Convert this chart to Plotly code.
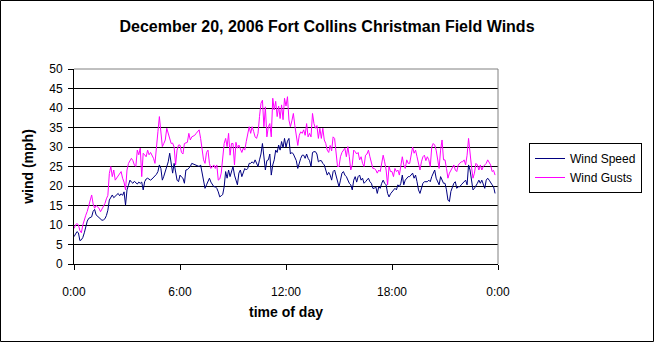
import plotly.graph_objects as go

# ---- data (mph, read at 5-minute steps from 0:00) ----
wind_speed = [
    7.0, 7.5, 8.3, 8.0, 6.0, 6.2, 6.8, 8.0, 9.8, 11.0, 11.7, 12.0,
    12.1, 13.5, 14.0, 12.6, 12.3, 12.0, 11.5, 11.2, 11.3, 11.6, 12.4, 13.8,
    16.4, 17.0, 17.7, 17.0, 17.3, 17.8, 18.1, 17.5, 18.0, 17.6, 18.5, 15.1,
    19.0, 20.2, 21.5, 21.0, 20.7, 21.2, 20.7, 20.5, 21.0, 20.7, 21.0, 19.0,
    21.1, 21.8, 22.0, 21.7, 21.5, 21.8, 22.2, 22.4, 23.0, 23.7, 25.4, 24.5,
    21.5, 22.5, 23.7, 25.0, 26.2, 28.4, 25.4, 23.3, 25.8, 23.0, 21.5, 21.1,
    22.8, 22.3, 22.0, 20.7, 24.1, 24.2, 24.5, 25.0, 25.8, 25.6, 25.4, 25.2,
    25.0, 25.0, 25.4, 23.3, 20.7, 19.4, 20.3, 21.0, 22.0, 21.0, 20.3, 19.8,
    19.8, 19.4, 18.5, 17.2, 17.5, 17.8, 19.8, 23.7, 22.0, 24.1, 22.4, 23.5,
    25.0, 22.8, 21.5, 20.3, 23.3, 24.1, 22.4, 23.7, 24.5, 24.1, 24.5, 25.8,
    25.8, 26.2, 25.8, 26.7, 25.8, 25.0, 26.7, 28.2, 30.9, 27.9, 24.1, 26.5,
    26.7, 28.2, 22.8, 25.4, 26.7, 29.2, 28.6, 30.5, 29.2, 31.4, 29.8, 32.2,
    30.0, 31.5, 32.2, 28.2, 28.6, 28.2, 27.1, 26.5, 24.5, 26.2, 27.1, 27.9,
    27.9, 27.1, 28.2, 27.1, 26.5, 25.0, 28.6, 28.8, 28.8, 28.2, 26.2, 26.5,
    26.5, 25.8, 25.4, 24.1, 22.8, 23.5, 22.8, 21.5, 23.7, 24.1, 22.8, 21.0,
    19.8, 21.5, 23.3, 23.7, 22.8, 22.4, 21.5, 20.7, 20.3, 19.0, 21.5, 22.4,
    21.0, 22.4, 22.8, 21.5, 22.0, 20.7, 21.1, 21.5, 22.0, 21.1, 20.7, 19.4,
    19.4, 19.8, 18.1, 19.8, 19.4, 20.7, 21.5, 20.7, 20.3, 18.1, 17.2, 18.0,
    18.5, 19.0, 19.4, 19.0, 20.3, 19.8, 20.7, 22.8, 20.3, 21.5, 22.0, 22.4,
    22.4, 22.8, 23.3, 22.0, 22.8, 21.1, 19.0, 18.1, 19.8, 20.7, 21.1, 21.1,
    21.1, 21.5, 21.1, 22.4, 23.3, 24.1, 22.0, 21.1, 20.3, 22.4, 21.5, 20.7,
    20.7, 19.0, 16.4, 16.0, 18.6, 19.8, 20.7, 21.1, 19.4, 19.8, 19.8, 20.3,
    20.7, 21.1, 21.5, 20.3, 25.4, 24.1, 21.5, 19.0, 19.4, 20.3, 20.7, 21.5,
    20.7, 21.5, 20.3, 19.4, 21.5, 22.0, 21.5, 20.7, 20.3, 19.8, 18.1,
]

wind_gusts = [
    9.1, 10.0, 10.4, 10.0, 8.6, 8.0, 10.0, 11.5, 12.5, 13.5, 14.7, 16.0,
    17.7, 15.4, 14.3, 15.0, 14.7, 14.3, 13.4, 14.0, 14.7, 15.5, 16.7, 17.6,
    23.2, 25.0, 22.4, 24.1, 21.5, 22.0, 22.4, 23.0, 23.7, 22.0, 21.0, 19.0,
    24.1, 25.8, 26.5, 27.1, 26.5, 25.4, 25.0, 29.2, 28.0, 29.7, 22.4, 28.4,
    28.0, 27.5, 29.2, 28.0, 28.6, 28.0, 27.1, 25.8, 30.9, 33.9, 37.8, 33.0,
    30.1, 30.9, 31.8, 34.8, 33.5, 31.8, 30.9, 31.0, 30.0, 25.4, 29.2, 30.5,
    30.5, 28.6, 28.2, 30.9, 31.0, 31.2, 33.5, 31.8, 32.6, 32.8, 33.0, 33.5,
    33.9, 34.4, 32.2, 29.2, 26.7, 25.8, 28.6, 29.2, 25.8, 24.5, 25.0, 25.4,
    24.5, 25.4, 21.5, 21.8, 23.3, 26.7, 30.9, 32.2, 30.1, 33.5, 27.9, 30.9,
    30.9, 25.4, 31.2, 29.7, 30.5, 29.5, 28.6, 29.7, 29.2, 31.4, 33.5, 35.2,
    33.5, 35.2, 34.0, 32.6, 32.2, 33.5, 37.8, 41.2, 42.0, 35.2, 40.3, 32.6,
    35.2, 36.0, 32.6, 42.5, 39.5, 41.7, 37.8, 40.5, 37.3, 40.8, 37.0, 42.5,
    40.5, 42.9, 36.9, 35.2, 36.7, 38.6, 35.5, 32.2, 30.4, 33.0, 33.9, 33.5,
    34.4, 33.0, 36.0, 32.6, 33.5, 32.6, 38.6, 36.0, 34.8, 35.5, 32.2, 34.8,
    32.2, 34.8, 31.8, 30.9, 29.2, 28.6, 30.4, 29.0, 32.6, 32.2, 28.0, 25.0,
    25.0, 27.5, 28.6, 29.2, 29.7, 27.5, 30.1, 27.5, 24.1, 25.4, 29.2, 28.8,
    28.2, 28.6, 26.7, 27.5, 25.8, 25.0, 27.9, 28.2, 29.2, 27.5, 25.8, 24.5,
    24.5, 24.1, 23.3, 24.1, 23.7, 25.8, 27.9, 26.2, 24.1, 20.3, 25.0, 23.7,
    23.7, 22.4, 24.5, 23.7, 24.1, 22.8, 25.0, 27.5, 25.4, 24.5, 26.7, 25.8,
    25.8, 27.9, 30.0, 28.4, 29.2, 27.5, 25.4, 24.1, 26.2, 27.5, 27.9, 26.5,
    27.5, 26.7, 25.0, 30.0, 30.9, 30.5, 29.2, 26.6, 24.5, 29.2, 31.8, 26.7,
    26.7, 24.5, 22.0, 23.3, 24.1, 25.0, 25.4, 24.1, 23.7, 25.4, 25.8, 26.2,
    26.2, 26.7, 25.4, 27.9, 32.2, 27.9, 24.9, 22.0, 23.3, 25.8, 25.4, 24.1,
    25.4, 24.1, 25.0, 25.4, 25.8, 26.7, 26.2, 25.4, 23.7, 24.0, 22.8,
]

# time of day in hours (5-minute readings)
time_hours = [i * 5 / 60 for i in range(len(wind_speed))]

x_tick_vals = [0, 6, 12, 18, 24]
x_tick_text = ["0:00", "6:00", "12:00", "18:00", "0:00"]
y_tick_vals = list(range(0, 51, 5))

FONT = "Arial, 'Liberation Sans', sans-serif"

fig = go.Figure()
fig.add_trace(go.Scatter(x=time_hours, y=wind_speed, mode="lines", name="Wind Speed",
                         line=dict(color="#000080", width=1)))
fig.add_trace(go.Scatter(x=time_hours, y=wind_gusts, mode="lines", name="Wind Gusts",
                         line=dict(color="#FF00FF", width=1)))

W, H = 655, 343
L, R, T, B = 74, 157, 69, 79
pw, ph = W - L - R, H - T - B

fig.update_layout(
    width=W, height=H,
    margin=dict(l=L, r=R, t=T, b=B, pad=0),
    paper_bgcolor="white", plot_bgcolor="white",
    font=dict(family=FONT, size=12, color="black"),
    title=dict(text="<b>December 20, 2006 Fort Collins Christman Field Winds</b>",
               x=(327 - L) / pw, xref="paper", xanchor="center",
               y=1 - 26 / H, yref="container", yanchor="middle",
               font=dict(size=16, family=FONT, color="black")),
    showlegend=True,
    legend=dict(x=(529 - L) / pw, y=(264 - 143) / ph, xanchor="left", yanchor="top",
                bordercolor="black", borderwidth=1, bgcolor="white",
                font=dict(size=12, family=FONT, color="black"),
                itemwidth=30, tracegroupgap=0),
    hovermode=False,
)

fig.update_xaxes(range=[0, 24], tickmode="array", tickvals=x_tick_vals, ticktext=x_tick_text,
                 showgrid=False, zeroline=False, showline=True, linecolor="black", linewidth=1,
                 ticks="outside", ticklen=5, tickcolor="black", tickwidth=1,
                 ticklabelstandoff=12, tickfont=dict(size=12, family=FONT),
                 title=dict(text="<b>time of day</b>", font=dict(size=14, family=FONT), standoff=8))
fig.update_yaxes(range=[0, 50], tickmode="array", tickvals=y_tick_vals,
                 showgrid=True, gridcolor="black", gridwidth=1, zeroline=False,
                 showline=True, linecolor="black", linewidth=1,
                 ticks="outside", ticklen=5, tickcolor="black", tickwidth=1,
                 ticklabelstandoff=3, tickfont=dict(size=12, family=FONT),
                 title=dict(text="<b>wind (mph)</b>", font=dict(size=14, family=FONT), standoff=12))

# grey plot-area border on top and right
fig.add_shape(type="line", xref="paper", yref="paper", x0=0, x1=1, y0=1, y1=1,
              line=dict(color="#808080", width=1), layer="above")
fig.add_shape(type="line", xref="paper", yref="paper", x0=1, x1=1, y0=0, y1=1,
              line=dict(color="#808080", width=1), layer="above")
# outer chart border
fig.add_shape(type="rect", xref="paper", yref="paper",
              x0=(0.5 - L) / pw, x1=(653.5 - L) / pw,
              y0=-(341.5 - (H - B)) / ph, y1=((H - B) - 0.5) / ph,
              line=dict(color="black", width=1), fillcolor="rgba(0,0,0,0)", layer="above")

fig.write_html("out.html", config={"displayModeBar": False})
